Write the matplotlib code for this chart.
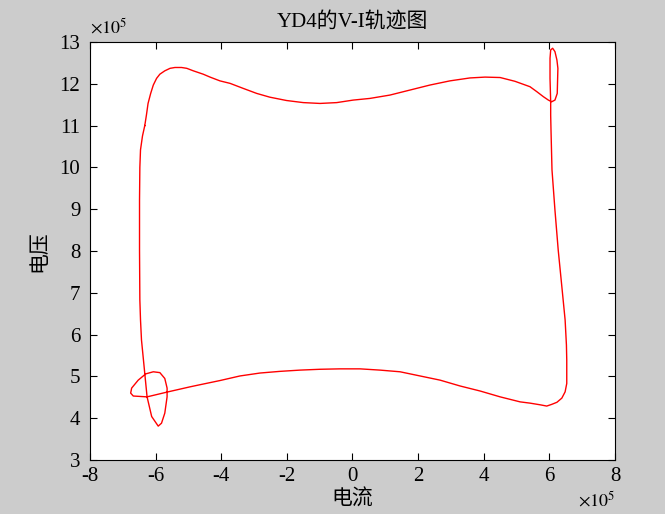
import matplotlib
matplotlib.use("Agg")

import matplotlib.pyplot as plt

# ---- Fonts ----
plt.rcParams["font.family"] = ["Liberation Serif", "Noto Sans CJK SC"]
plt.rcParams["mathtext.fontset"] = "stix"
plt.rcParams["axes.unicode_minus"] = False

# ---- Data (units of 1e5) ----
current = [
    # top-left corner and top edge
    -6.33, -6.28, -6.23, -6.15, -6.07, -5.97, -5.87, -5.72, -5.56, -5.41,
    -5.21, -5.05, -4.85, -4.55, -4.34, -4.04, -3.73, -3.33, -2.92, -2.52,
    -2.01, -1.50, -0.99, -0.48, 0.02, 0.53, 1.14, 1.75, 2.36, 2.97,
    3.58, 4.04, 4.50, 4.95, 5.41,
    # top-right loop
    5.62, 5.82, 5.97, 6.07, 6.17, 6.24, 6.26, 6.23, 6.17, 6.10,
    6.04, 6.02, 6.02, 6.04, 6.04,
    # right edge
    6.05, 6.08, 6.17, 6.27, 6.39, 6.48, 6.52, 6.53,
    # bottom-right corner
    6.53, 6.48, 6.38, 6.23, 6.07, 5.92, 5.72, 5.41, 5.11,
    # bottom edge
    4.50, 3.89, 3.28, 2.67, 2.06, 1.45, 0.84, 0.23, -0.38, -0.99,
    -1.60, -2.21, -2.82, -3.43, -4.04, -4.65, -4.95,
    # bottom-left loop
    -5.62, -6.26, -6.68, -6.76, -6.73, -6.53, -6.30, -6.07, -5.87, -5.72,
    -5.65, -5.65, -5.72, -5.82, -5.92, -6.12, -6.26, -6.33,
    # left edge
    -6.43, -6.46, -6.48, -6.49, -6.49, -6.48, -6.46, -6.40, -6.33,
]
voltage = [
    11.00, 11.25, 11.53, 11.77, 11.97, 12.13, 12.23, 12.31, 12.37, 12.39,
    12.39, 12.37, 12.31, 12.23, 12.16, 12.07, 12.01, 11.89, 11.77, 11.68,
    11.60, 11.55, 11.53, 11.55, 11.61, 11.65, 11.73, 11.85, 11.97, 12.07,
    12.14, 12.16, 12.15, 12.06, 11.93,
    11.81, 11.69, 11.61, 11.57, 11.61, 11.77, 12.37, 12.57, 12.77, 12.85,
    12.81, 12.61, 12.13, 11.57, 11.25,
    10.89, 9.94, 8.98, 8.02, 7.07, 6.35, 5.75, 5.39,
    4.83, 4.63, 4.48, 4.38, 4.33, 4.29, 4.32, 4.36, 4.39,
    4.51, 4.65, 4.77, 4.91, 5.01, 5.11, 5.15, 5.18, 5.18, 5.17,
    5.15, 5.12, 5.08, 5.01, 4.90, 4.80, 4.75,
    4.63, 4.51, 4.53, 4.60, 4.72, 4.91, 5.06, 5.11, 5.09, 4.95,
    4.72, 4.51, 4.12, 3.88, 3.81, 4.04, 4.51, 5.07,
    5.87, 6.35, 6.83, 8.02, 9.22, 10.00, 10.42, 10.75, 11.00,
]

x_ticks = list(range(-8, 9, 2))
y_ticks = list(range(3, 14))

# ---- Figure ----
fig = plt.figure(figsize=(6.65, 5.14), dpi=100, facecolor="#cccccc")
ax = fig.add_axes([0.1353, 0.1051, 0.7895, 0.8132])
ax.set_facecolor("white")

ax.plot(current, voltage, color="red", linewidth=1.0)

ax.set_xlim(-8, 8)
ax.set_ylim(3, 13)
ax.set_xticks(x_ticks)
ax.set_yticks(y_ticks)
ax.tick_params(direction="in", top=True, right=True, length=5,
               labelsize=15, width=0.8)
ax.tick_params(axis="x", pad=5)
ax.tick_params(axis="y", pad=7)

ax.set_title("YD4的V-I轨迹图", fontsize=15, pad=11)
ax.set_xlabel("电流", fontsize=15, labelpad=3)
ax.set_ylabel("电压", fontsize=15, labelpad=7)

# scale factors, MATLAB style
ax.text(0.0, 1.012, r"$\times10^{5}$", transform=ax.transAxes,
        fontsize=13, ha="left", va="bottom")
ax.text(1.0, -0.072, r"$\times10^{5}$", transform=ax.transAxes,
        fontsize=13, ha="right", va="top")

fig.savefig("out.png", dpi=100, facecolor=fig.get_facecolor())
plt.close(fig)
